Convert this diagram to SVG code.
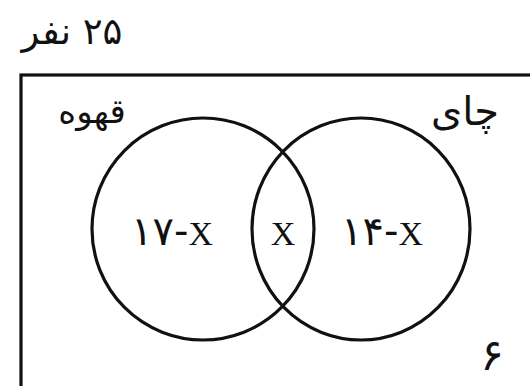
<svg xmlns="http://www.w3.org/2000/svg" width="530" height="386" viewBox="0 0 530 386">
<style>
.ln{fill:none;stroke:#111;stroke-width:3.2}
.fa{font-family:"DejaVu Sans",sans-serif;fill:#111}
.lat{font-family:"Liberation Serif",serif;fill:#111}
</style>
<rect width="530" height="386" fill="#fff"/>
<g id="universe">
<rect class="ln" x="21" y="75" width="540" height="340"/>
<text class="fa" x="72" y="44" font-size="37" direction="rtl" text-anchor="middle">۲۵ نفر</text>
<text class="fa" x="492" y="370" font-size="44" text-anchor="middle">۶</text>
</g>
<g id="coffee">
<ellipse class="ln" cx="203" cy="229" rx="111" ry="111"/>
<text class="fa" x="92" y="123" font-size="34" direction="rtl" text-anchor="middle">قهوه</text>
<text x="172" y="245" text-anchor="middle"><tspan class="fa" font-size="40">۱۷-</tspan><tspan class="lat" font-size="34">X</tspan></text>
</g>
<g id="tea">
<ellipse class="ln" cx="361" cy="229" rx="109" ry="111"/>
<text class="fa" x="465" y="125" font-size="40" direction="rtl" text-anchor="middle">چای</text>
<text x="382" y="245" text-anchor="middle"><tspan class="fa" font-size="40">۱۴-</tspan><tspan class="lat" font-size="34">X</tspan></text>
</g>
<g id="both">
<text class="lat" x="283" y="245" font-size="34" text-anchor="middle">X</text>
</g>
<g id="connectors"/>
</svg>
